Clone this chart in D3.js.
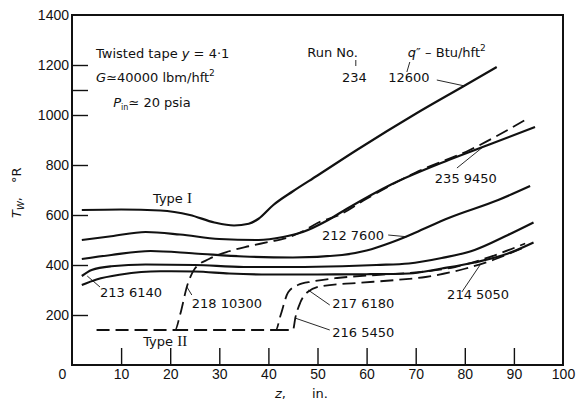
<!DOCTYPE html>
<html>
<head>
<meta charset="utf-8">
<script src="https://cdn.jsdelivr.net/npm/d3@7"></script>
<style>
  body { margin: 0; background: #fff; }
  svg { display: block; font-family: "DejaVu Sans", sans-serif; }
  .tick text { font-size: 14px; fill: #111; }
  .tick line { stroke: #111; stroke-width: 1.4; }
  .note { font-size: 13px; fill: #111; }
</style>
</head>
<body>
<div id="chart"></div>
<script>
// axis ticks
const zTicks = [0, 10, 20, 30, 40, 50, 60, 70, 80, 90, 100];
const tTicks = [200, 400, 600, 800, 1000, 1100, 1200, 1400];

// wall temperature T_w (°R) against axial position z (in.)
const run234 = [[2, 620], [10, 622], [18, 618], [24, 600], [29, 570], [33, 558], [36, 565], [38, 585],
  [41, 640], [45, 695], [50, 758], [58, 860], [70, 1005], [80, 1118], [86.5, 1192]];
const run235 = [[2, 500], [8, 515], [15, 532], [22, 522], [30, 504], [38, 500], [43, 512], [47, 532],
  [52, 578], [56, 625], [65, 722], [76.7, 820], [85, 882], [94.3, 952]];
const run218 = [[5, 140], [21, 140], [22, 200], [23.5, 320], [25, 385], [28, 425], [32, 455], [36, 475],
  [40, 492], [44, 510], [47, 535], [50, 568], [54.4, 600], [60, 665], [70, 770], [81, 860], [92.3, 980]];
const run212 = [[2, 424], [8, 440], [16, 456], [25, 446], [35, 434], [45, 430], [55, 440], [60, 458],
  [65, 490], [68, 513], [70, 530], [76.7, 588], [86.8, 660], [93.3, 716]];
const run213 = [[2, 356], [4, 380], [8, 395], [15, 402], [25, 400], [35, 392], [45, 392], [55, 395],
  [62, 400], [68.6, 406], [75.3, 428], [82, 460], [88.8, 520], [94, 570]];
const run214 = [[2, 320], [5, 342], [10, 362], [18, 375], [25, 374], [32, 366], [40, 362], [50, 362],
  [60, 363], [68.6, 366], [75.3, 386], [82, 410], [88.8, 446], [94, 490]];
const run217 = [[21, 140], [41.5, 140], [42.5, 200], [44, 290], [46, 320], [49, 334], [54, 348],
  [62, 360], [70, 370], [78, 392], [84, 425], [92.3, 486]];
const run216 = [[41.5, 140], [45, 140], [45.5, 190], [46.5, 250], [48, 292], [51, 316], [58, 328],
  [66, 340], [72, 352], [80, 385], [86, 422], [92, 470]];

const solidRuns = [run234, run235, run212, run213, run214];
const dashedRuns = [run218, run217, run216];

// run labels: text, anchor point (z, T), leader from / to (z, T)
const runLabels = [
  { text: "235 9450", z: 73.9, t: 728, lead: [[78.4, 788], [83.7, 872]] },
  { text: "212 7600", z: 50.9, t: 500, lead: [[64.4, 520], [68.2, 513]] },
  { text: "213 6140", z: 5.7, t: 272, lead: [[5.7, 312], [3.1, 356]] },
  { text: "218 10300", z: 24.4, t: 228, lead: [[24.4, 280], [23.4, 312]] },
  { text: "217 6180", z: 53, t: 228, lead: [[52.5, 240], [48.1, 300]] },
  { text: "216 5450", z: 53, t: 112, lead: [[52.5, 140], [45.4, 188]] },
  { text: "214 5050", z: 76.4, t: 264, lead: [[79.4, 292], [83.1, 400]] }
];

const width = 580, height = 402;
const svg = d3.select("#chart").append("svg").attr("width", width).attr("height", height);

const x = d3.scaleLinear().domain([0, 100]).range([72, 563]);
const y = d3.scaleLinear().domain([0, 1400]).range([365, 15]);

// frame
svg.append("rect")
  .attr("x", x(0)).attr("y", y(1400))
  .attr("width", x(100) - x(0)).attr("height", y(0) - y(1400))
  .attr("fill", "none").attr("stroke", "#111").attr("stroke-width", 2);

// axes, ticks pointing inward
const xAxis = svg.append("g").attr("transform", `translate(0,${y(0)})`)
  .call(d3.axisBottom(x).tickValues(zTicks).tickSizeInner(-17).tickSizeOuter(0).tickPadding(4));
xAxis.select(".domain").remove();
xAxis.selectAll(".tick").filter(d => d === 0 || d === 100).select("line").remove();
xAxis.selectAll(".tick").filter(d => d === 0).select("text").attr("x", -10);

const yAxis = svg.append("g").attr("transform", `translate(${x(0)},0)`)
  .call(d3.axisLeft(y).tickValues(tTicks).tickSizeInner(-16).tickSizeOuter(0).tickPadding(3)
    .tickFormat(d => d === 1100 ? "" : d));
yAxis.select(".domain").remove();
yAxis.selectAll(".tick").filter(d => d === 1400).select("line").remove();

// curves
const line = d3.line().x(d => x(d[0])).y(d => y(d[1])).curve(d3.curveMonotoneX);
svg.append("g").selectAll("path").data(solidRuns).join("path")
  .attr("d", line).attr("fill", "none").attr("stroke", "#111").attr("stroke-width", 2.2);
svg.append("g").selectAll("path").data(dashedRuns).join("path")
  .attr("d", line).attr("fill", "none").attr("stroke", "#111").attr("stroke-width", 1.8)
  .attr("stroke-dasharray", "13,6");

// run labels and leaders
const labels = svg.append("g");
runLabels.forEach(l => {
  labels.append("text").attr("class", "note").attr("x", x(l.z)).attr("y", y(l.t)).text(l.text);
  labels.append("line")
    .attr("x1", x(l.lead[0][0])).attr("y1", y(l.lead[0][1]))
    .attr("x2", x(l.lead[1][0])).attr("y2", y(l.lead[1][1]))
    .attr("stroke", "#111").attr("stroke-width", 0.9);
});

// Type labels
const typeI = svg.append("text").attr("class", "note").attr("x", x(16.5)).attr("y", y(648));
typeI.append("tspan").text("Type ");
typeI.append("tspan").attr("font-family", "Liberation Serif, serif").attr("font-size", 15).text("I");
const typeII = svg.append("text").attr("class", "note").attr("x", x(14.5)).attr("y", y(76));
typeII.append("tspan").text("Type ");
typeII.append("tspan").attr("font-family", "Liberation Serif, serif").attr("font-size", 15).text("II");

// conditions block
const t1 = svg.append("text").attr("class", "note").attr("x", x(4.9)).attr("y", y(1228));
t1.append("tspan").text("Twisted tape ");
t1.append("tspan").attr("font-style", "italic").text("y");
t1.append("tspan").text(" = 4·1");
const t2 = svg.append("text").attr("class", "note").attr("x", x(4.9)).attr("y", y(1132));
t2.append("tspan").attr("font-style", "italic").text("G");
t2.append("tspan").text("≃40000 lbm/hft");
t2.append("tspan").attr("font-size", 9).attr("dy", -6).text("2");
const t3 = svg.append("text").attr("class", "note").attr("x", x(8.4)).attr("y", y(1032));
t3.append("tspan").attr("font-style", "italic").text("P");
t3.append("tspan").attr("font-size", 8).attr("dy", 3).text("in");
t3.append("tspan").attr("dy", -3).text("≃ 20 psia");

// run / heat flux header
svg.append("text").attr("class", "note").attr("x", x(47.9)).attr("y", y(1232)).text("Run No.");
svg.append("text").attr("class", "note").attr("x", x(55)).attr("y", y(1132)).text("234");
const qh = svg.append("text").attr("class", "note").attr("x", x(68.4)).attr("y", y(1232));
qh.append("tspan").attr("font-style", "italic").text("q");
qh.append("tspan").text("″ – Btu/hft");
qh.append("tspan").attr("font-size", 9).attr("dy", -6).text("2");
svg.append("text").attr("class", "note").attr("x", x(64.4)).attr("y", y(1132)).text("12600");
const hdrLines = [[[57.8, 1220], [57.8, 1196]], [[68.8, 1212], [68.2, 1172]], [[74.3, 1140], [80, 1116]]];
svg.append("g").selectAll("line").data(hdrLines).join("line")
  .attr("x1", d => x(d[0][0])).attr("y1", d => y(d[0][1]))
  .attr("x2", d => x(d[1][0])).attr("y2", d => y(d[1][1]))
  .attr("stroke", "#111").attr("stroke-width", 0.9);

// axis titles
const yt = svg.append("g").attr("transform", "translate(21,0) rotate(-90)");
const ytw = yt.append("text").attr("class", "note").attr("font-size", 14).attr("x", -218).attr("y", 0);
ytw.append("tspan").attr("font-style", "italic").text("T");
ytw.append("tspan").attr("font-size", 9).attr("dy", 3).attr("font-style", "italic").text("W");
ytw.append("tspan").attr("dy", -3).text(",");
yt.append("text").attr("class", "note").attr("font-size", 14).attr("x", -183).attr("y", 0).text("°R");

const xt = svg.append("text").attr("class", "note").attr("font-size", 14).attr("x", 275).attr("y", 398);
xt.append("tspan").attr("font-style", "italic").text("z");
xt.append("tspan").text(",");
svg.append("text").attr("class", "note").attr("font-size", 14).attr("x", 312).attr("y", 398).text("in.");
</script>
</body>
</html>
